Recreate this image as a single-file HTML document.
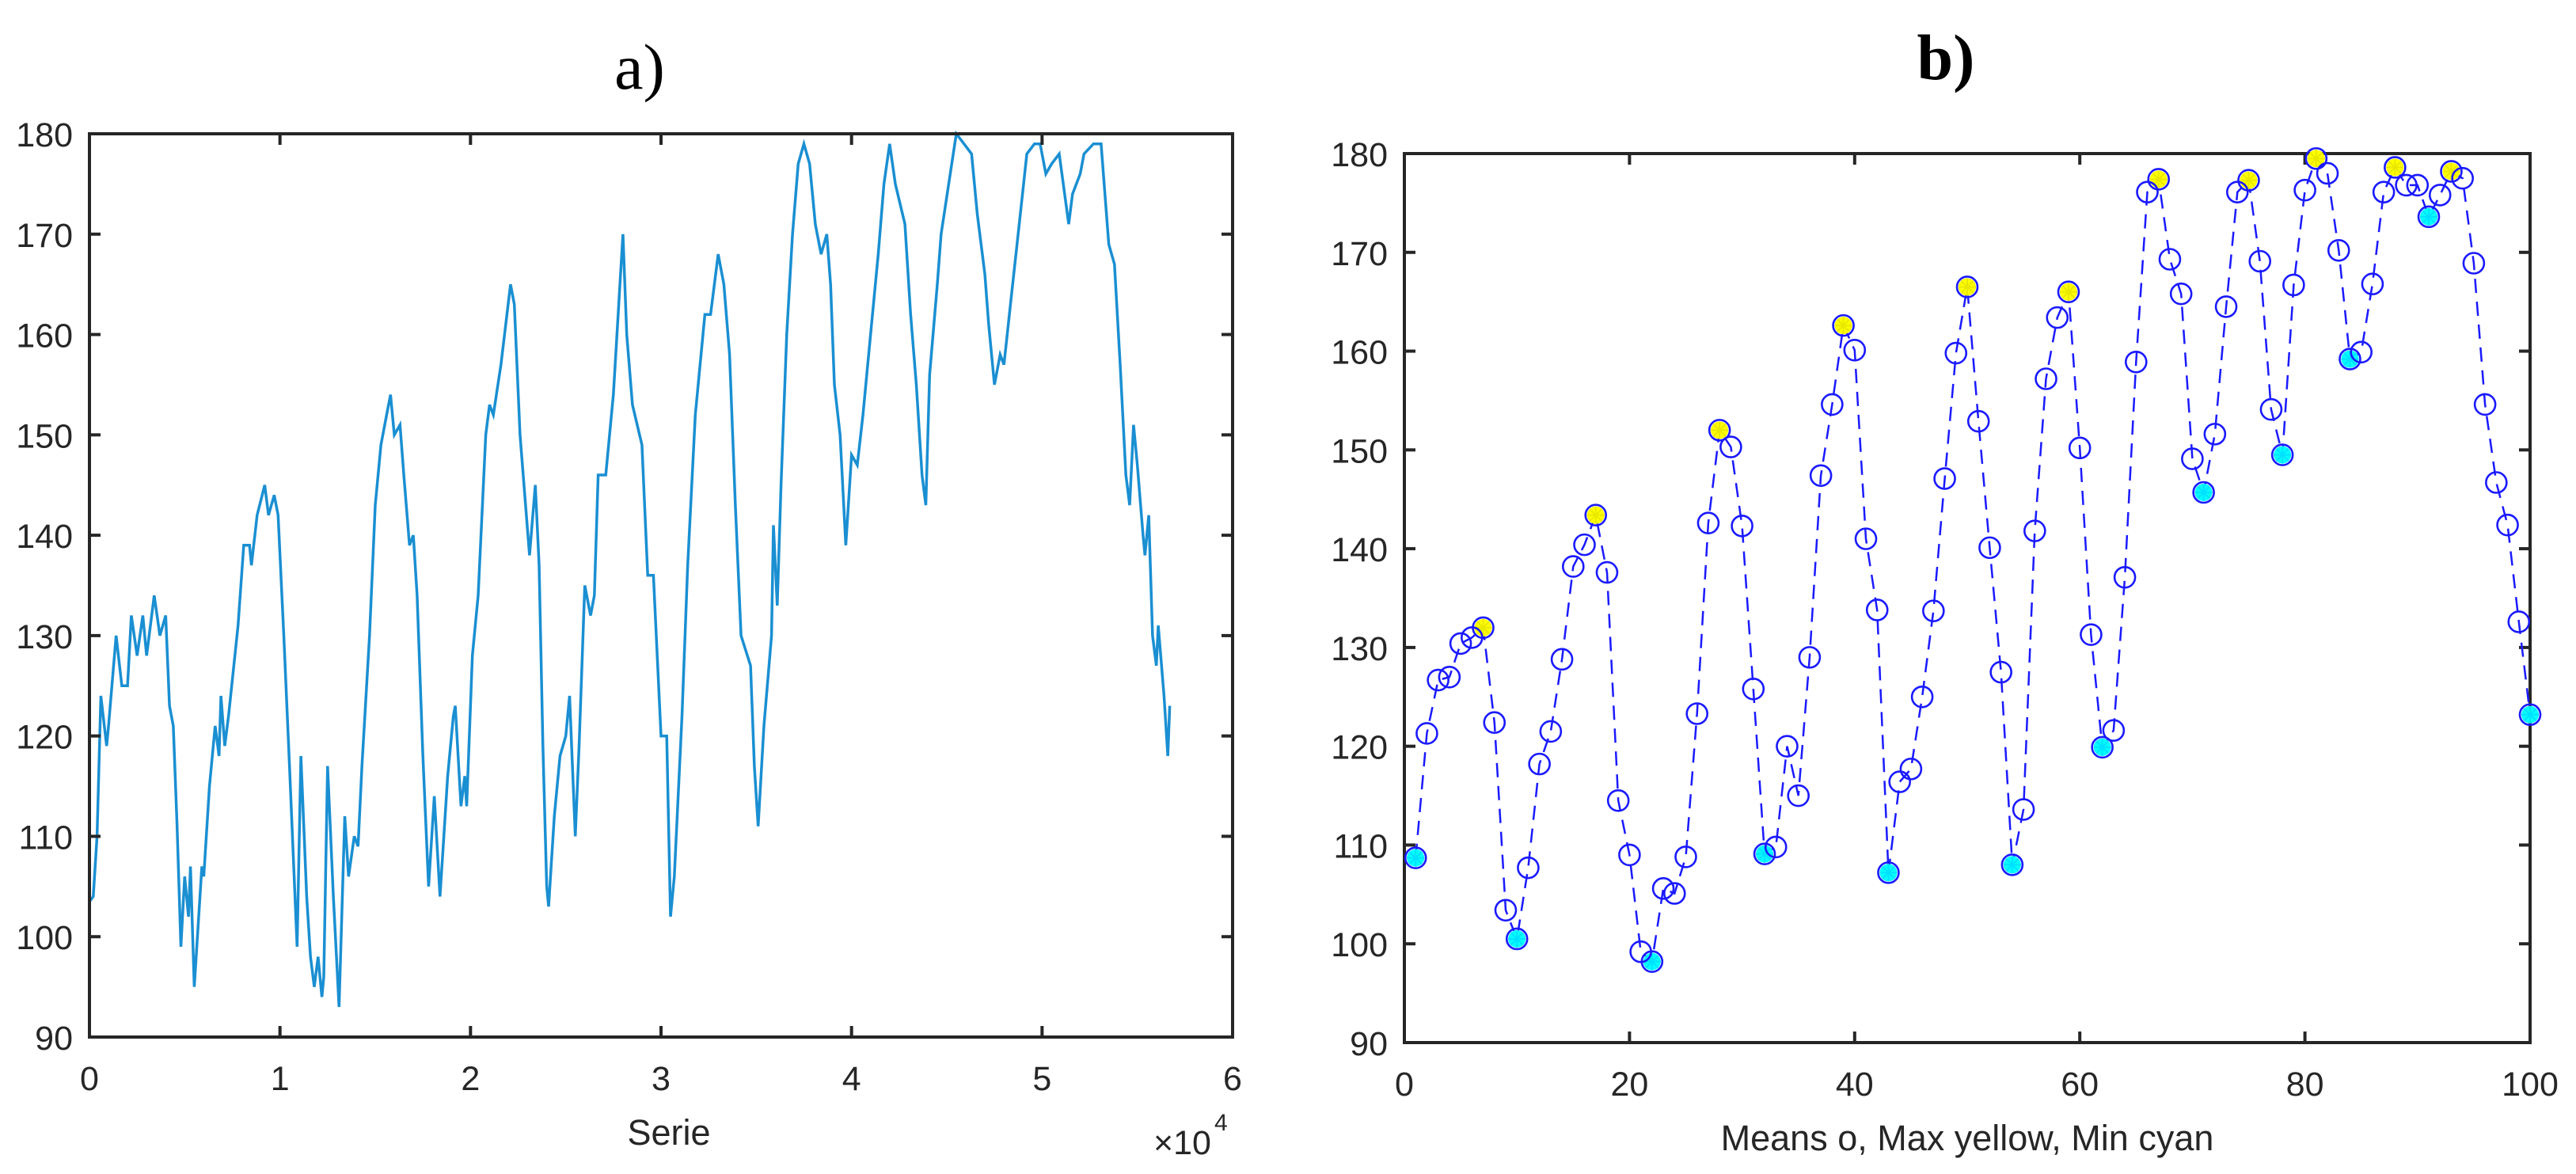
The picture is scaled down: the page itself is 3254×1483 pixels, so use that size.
<!DOCTYPE html>
<html><head><meta charset="utf-8"><style>
html,body{margin:0;padding:0;background:#fff;}
svg{display:block;}
text{font-family:"Liberation Sans",sans-serif;fill:#262626;}
</style></head><body>
<svg id="fig" width="3254" height="1483" viewBox="0 0 3254 1483" xmlns="http://www.w3.org/2000/svg">
<text x="808" y="112" font-family="Liberation Serif, serif" style="font-family:'Liberation Serif',serif;fill:#000" font-size="82" text-anchor="middle">a)</text>
<text x="2458" y="100" style="font-family:'Liberation Serif',serif;fill:#000;font-weight:bold" font-size="82" text-anchor="middle">b)</text>
<g id="chartA"></g>
<g id="chartB"></g>
</svg>
<script>
// ---- Chart A data ----
const serieX = [0,0.2,0.4,0.6,0.9,1.0,1.4,1.7,2.0,2.2,2.5,2.8,3.0,3.4,3.7,4.0,4.2,4.4,4.6,4.8,5.0,5.2,5.3,5.5,5.9,6.0,6.3,6.6,6.8,6.9,7.1,7.3,7.8,8.1,8.4,8.5,8.8,9.2,9.4,9.7,9.9,10.2,10.5,10.9,11.1,11.4,11.6,11.8,12.0,12.2,12.3,12.5,12.8,13.1,13.4,13.6,13.9,14.1,14.3,14.7,15.0,15.3,15.6,15.8,16.0,16.3,16.5,16.8,17.0,17.2,17.5,17.8,18.1,18.4,18.8,19.1,19.2,19.5,19.7,19.8,20.1,20.4,20.8,21.0,21.2,21.6,22.1,22.3,22.6,23.1,23.4,23.6,23.8,24.0,24.1,24.4,24.7,25.0,25.2,25.5,25.7,26.0,26.3,26.5,26.7,27.1,27.5,28.0,28.2,28.5,29.0,29.3,29.6,30.0,30.3,30.5,30.7,31.1,31.4,31.8,32.3,32.6,33.0,33.3,33.6,33.9,34.2,34.7,34.9,35.1,35.4,35.8,35.9,36.1,36.3,36.6,36.9,37.2,37.5,37.8,38.1,38.4,38.7,38.9,39.1,39.4,39.7,40.0,40.3,40.6,41.0,41.4,41.7,42.0,42.3,42.8,43.1,43.4,43.7,43.9,44.1,44.5,44.7,45.1,45.5,45.9,46.3,46.6,47.0,47.2,47.5,47.8,48.0,48.4,48.8,49.2,49.6,49.9,50.2,50.5,50.9,51.4,51.6,52.0,52.2,52.7,53.1,53.5,53.8,54.1,54.4,54.6,54.8,55.0,55.3,55.4,55.6,55.8,56.0,56.1,56.4,56.6,56.7];
const serieY = [103.5,104,110,124,119,121,130,125,125,132,128,132,128,134,130,132,123,121,111,99,106,102,107,95,107,106,115,121,118,124,119,122,131,139,139,137,142,145,142,144,142,130,117,99,118,104,98,95,98,94,96,117,104,93,112,106,110,109,117,130,143,149,152,154,150,151,146,139,140,134,118,105,114,104,116,122,123,113,116,113,128,134,150,153,152,157,165,163,150,138,145,137,119,105,103,112,118,120,124,110,119,135,132,134,146,146,154,170,160,153,149,136,136,120,120,102,106,122,137,152,162,162,168,165,158,143,130,127,117,111,121,130,141,133,145,160,170,177,179,177,171,168,170,165,155,150,139,148,147,152,160,168,175,179,175,171,162,155,146,143,156,165,170,175,180,179,178,172,166,161,155,158,157,164,171,178,179,179,176,177,178,171,174,176,178,179,179,169,167,157,146,143,151,147,140,138,142,130,127,131,124,118,123];
const aYTicks = [90,100,110,120,130,140,150,160,170,180];
const aXTicks = [0,1,2,3,4,5,6];

// ---- Chart B data ----
const meanVals = [108.7,121.3,126.7,127,130.4,131,132,122.4,103.4,100.5,107.7,118.2,121.5,128.8,138.2,140.4,143.4,137.6,114.5,109,99.2,98.2,105.6,105.1,108.8,123.3,142.6,152,150.3,142.3,125.8,109.1,109.8,120,115,129,147.4,154.6,162.6,160.1,141,133.8,107.2,116.4,117.7,125,133.7,147.1,159.8,166.5,152.9,140.1,127.5,108,113.6,141.8,157.2,163.4,166,150.2,131.3,119.9,121.6,137.1,158.9,176.1,177.4,169.3,165.8,149.1,145.7,151.6,164.5,176.1,177.3,169.1,154.1,149.5,166.7,176.3,179.5,178,170.2,159.2,159.9,166.8,176.1,178.6,176.8,176.8,173.6,175.8,178.2,177.5,168.9,154.6,146.7,142.4,132.6,123.2];
const maxIdx = [7,17,28,39,50,59,67,75,81,88,93];
const minIdx = [1,10,22,32,43,54,62,71,78,84,91,100];
const bYTicks = [90,100,110,120,130,140,150,160,170,180];
const bXTicks = [0,20,40,60,80,100];

const NS = "http://www.w3.org/2000/svg";
function mk(parent, tag, attrs, txt){
  const e = document.createElementNS(NS, tag);
  for (const k in attrs) e.setAttribute(k, attrs[k]);
  if (txt !== undefined) e.textContent = txt;
  parent.appendChild(e);
  return e;
}
function axes(g, L, T, R, B, xs, ys, xt, yt, nameP){
  const fr = mk(g,'rect',{x:L,y:T,width:R-L,height:B-T,fill:'none',stroke:'#262626','stroke-width':4});
  
  
  xt.forEach(v=>{
    const x = xs(v);
    mk(g,'line',{x1:x,y1:B,x2:x,y2:B-14,stroke:'#262626','stroke-width':4});
    mk(g,'line',{x1:x,y1:T,x2:x,y2:T+14,stroke:'#262626','stroke-width':4});
    const t = mk(g,'text',{x:x,y:B+67,'font-size':43,'text-anchor':'middle'}, String(v));
    
    
  });
  yt.forEach(v=>{
    const y = ys(v);
    mk(g,'line',{x1:L,y1:y,x2:L+14,y2:y,stroke:'#262626','stroke-width':4});
    mk(g,'line',{x1:R,y1:y,x2:R-14,y2:y,stroke:'#262626','stroke-width':4});
    const t = mk(g,'text',{x:L-21,y:y+16,'font-size':43,'text-anchor':'end'}, String(v));
    
    
  });
}

// Chart A
(function(){
  const g = document.getElementById('chartA');
  const L=113,R=1557,T=169,B=1310;
  const xs = v => L + (v/6)*(R-L);
  const ys = v => B - (v-90)/90*(B-T);
  const pts = serieX.map((x,i)=> xs(x/10).toFixed(1)+','+ys(serieY[i]).toFixed(1)).join(' ');
  const pl = mk(g,'polyline',{points:pts,fill:'none',stroke:'#1a8fd2','stroke-width':3.5,'stroke-linejoin':'miter'});
  
  
  axes(g,L,T,R,B,xs,ys,aXTicks,aYTicks,'a');
  const xl = mk(g,'text',{x:845,y:1446,'font-size':45,'text-anchor':'middle'},'Serie');
  
  
  const ex = mk(g,'text',{x:1457,y:1458,'font-size':43},'×10');
  
  
  mk(g,'text',{x:1534,y:1428,'font-size':30},'4');
})();

// Chart B
(function(){
  const g = document.getElementById('chartB');
  const L=1774,R=3196,T=194,B=1317;
  const xs = v => L + v/100*(R-L);
  const ys = v => B - (v-90)/90*(B-T);
  axes(g,L,T,R,B,xs,ys,bXTicks,bYTicks,'b');
  const pts = meanVals.map((v,i)=> xs(i+1).toFixed(1)+','+ys(v).toFixed(1)).join(' ');
  const pl = mk(g,'polyline',{points:pts,fill:'none',stroke:'#1a1aff','stroke-width':2.5,'stroke-dasharray':'18 11'});
  
  
  function star(cx,cy,col,nm){
    const s = mk(g,'g',{});
    
    
    mk(s,'circle',{cx:cx,cy:cy,r:11,fill:col});
    for(let a=0;a<4;a++){
      const an = a*Math.PI/4;
      mk(s,'line',{x1:cx-11*Math.cos(an),y1:cy-11*Math.sin(an),x2:cx+11*Math.cos(an),y2:cy+11*Math.sin(an),stroke:col==='#ffff00'?'#e8e800':'#00e0ff','stroke-width':2});
    }
  }
  maxIdx.forEach(i=> star(xs(i), ys(meanVals[i-1]), '#ffff00', 'max-marker'));
  minIdx.forEach(i=> star(xs(i), ys(meanVals[i-1]), '#00ffff', 'min-marker'));
  meanVals.forEach((v,i)=>{
    const c = mk(g,'circle',{cx:xs(i+1),cy:ys(v),r:13,fill:'none',stroke:'#1a1aff','stroke-width':2.6});
    
    
  });
  const xl = mk(g,'text',{x:2485,y:1453,'font-size':45,'text-anchor':'middle'},'Means o, Max yellow, Min cyan');
  
  
})();
</script>
</body></html>
